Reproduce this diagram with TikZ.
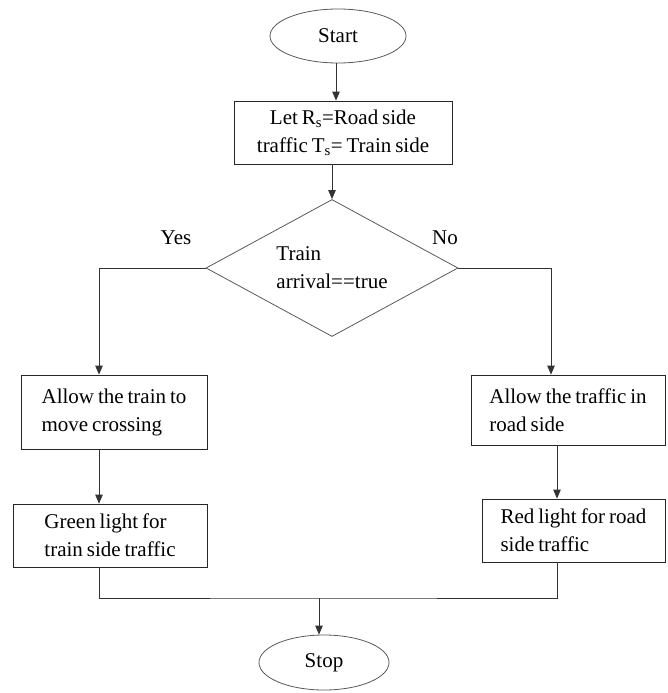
\documentclass[tikz,border=0pt]{standalone}
\usepackage{fontspec}
\setmainfont[WordSpace=0.75]{Liberation Serif}
\usetikzlibrary{shapes,shapes.geometric,arrows.meta,positioning}

\begin{document}
\begin{tikzpicture}[x=1pt,y=-1pt,>={Triangle[length=9pt,width=7.5pt]},
	font=\fontsize{21}{28}\selectfont,
	term/.style={ellipse,draw=black!65,line width=0.8pt,minimum width=136pt,minimum height=54pt,inner sep=0pt},
	proc/.style={rectangle,draw=black!85,line width=0.8pt,align=left,inner sep=0pt,minimum height=63pt},
	dec/.style={diamond,draw=black!65,line width=0.8pt,align=left,inner sep=0pt,aspect=1.84,minimum width=252pt,minimum height=137pt},
	conn/.style={draw=black!80,line width=0.8pt}]
		\useasboundingbox (0,0) rectangle (668,693);
		\node[term] (start) at (338,36) {Start};
		\node[proc,align=center,minimum width=218pt] (init) at (343,132.5) {Let R\textsubscript{s}=Road side\\traffic T\textsubscript{s}= Train side};
		\node[dec] (arr) at (332,268) {Train\\arrival==true};
		\node[proc,minimum width=186pt,minimum height=74pt] (train) at (114,412) {Allow the train to\\move crossing};
		\node[proc,minimum width=194pt] (green) at (110,535.5) {Green light for\\train side traffic};
		\node[proc,minimum width=194pt,minimum height=70pt] (road) at (568,410) {Allow the traffic in\\road side};
		\node[proc,minimum width=183pt] (red) at (573.5,530.5) {Red light for road\\side traffic};
		\node[term,minimum width=130pt,minimum height=55pt] (stop) at (324,662.5) {Stop};
		\node (yes) at (176,238) {Yes};
		\node (no) at (445,238) {No};
		\coordinate (join) at (319,598);
		
		\draw[conn,->] ([xshift=-2pt]start.south) -- ([xshift=-7pt]init.north);
		\draw[conn,->] ([xshift=-11pt]init.south) -- (arr.north);
		\draw[conn,->] (arr.west) -| ([xshift=-15pt]train.north);
		\draw[conn,->] (arr.east) -| ([xshift=-17pt]road.north);
		\draw[conn,->] ([xshift=-15pt]train.south) -- ([xshift=-11pt]green.north);
		\draw[conn,->] ([xshift=-11pt]road.south) -- ([xshift=-16.5pt]red.north);
		\draw[conn] ([xshift=-11pt]green.south) |- (join) -| ([xshift=-16.5pt]red.south);
		\draw[conn,->] (join) -- ([xshift=-5pt]stop.north);
		
	\end{tikzpicture}
\end{document}
